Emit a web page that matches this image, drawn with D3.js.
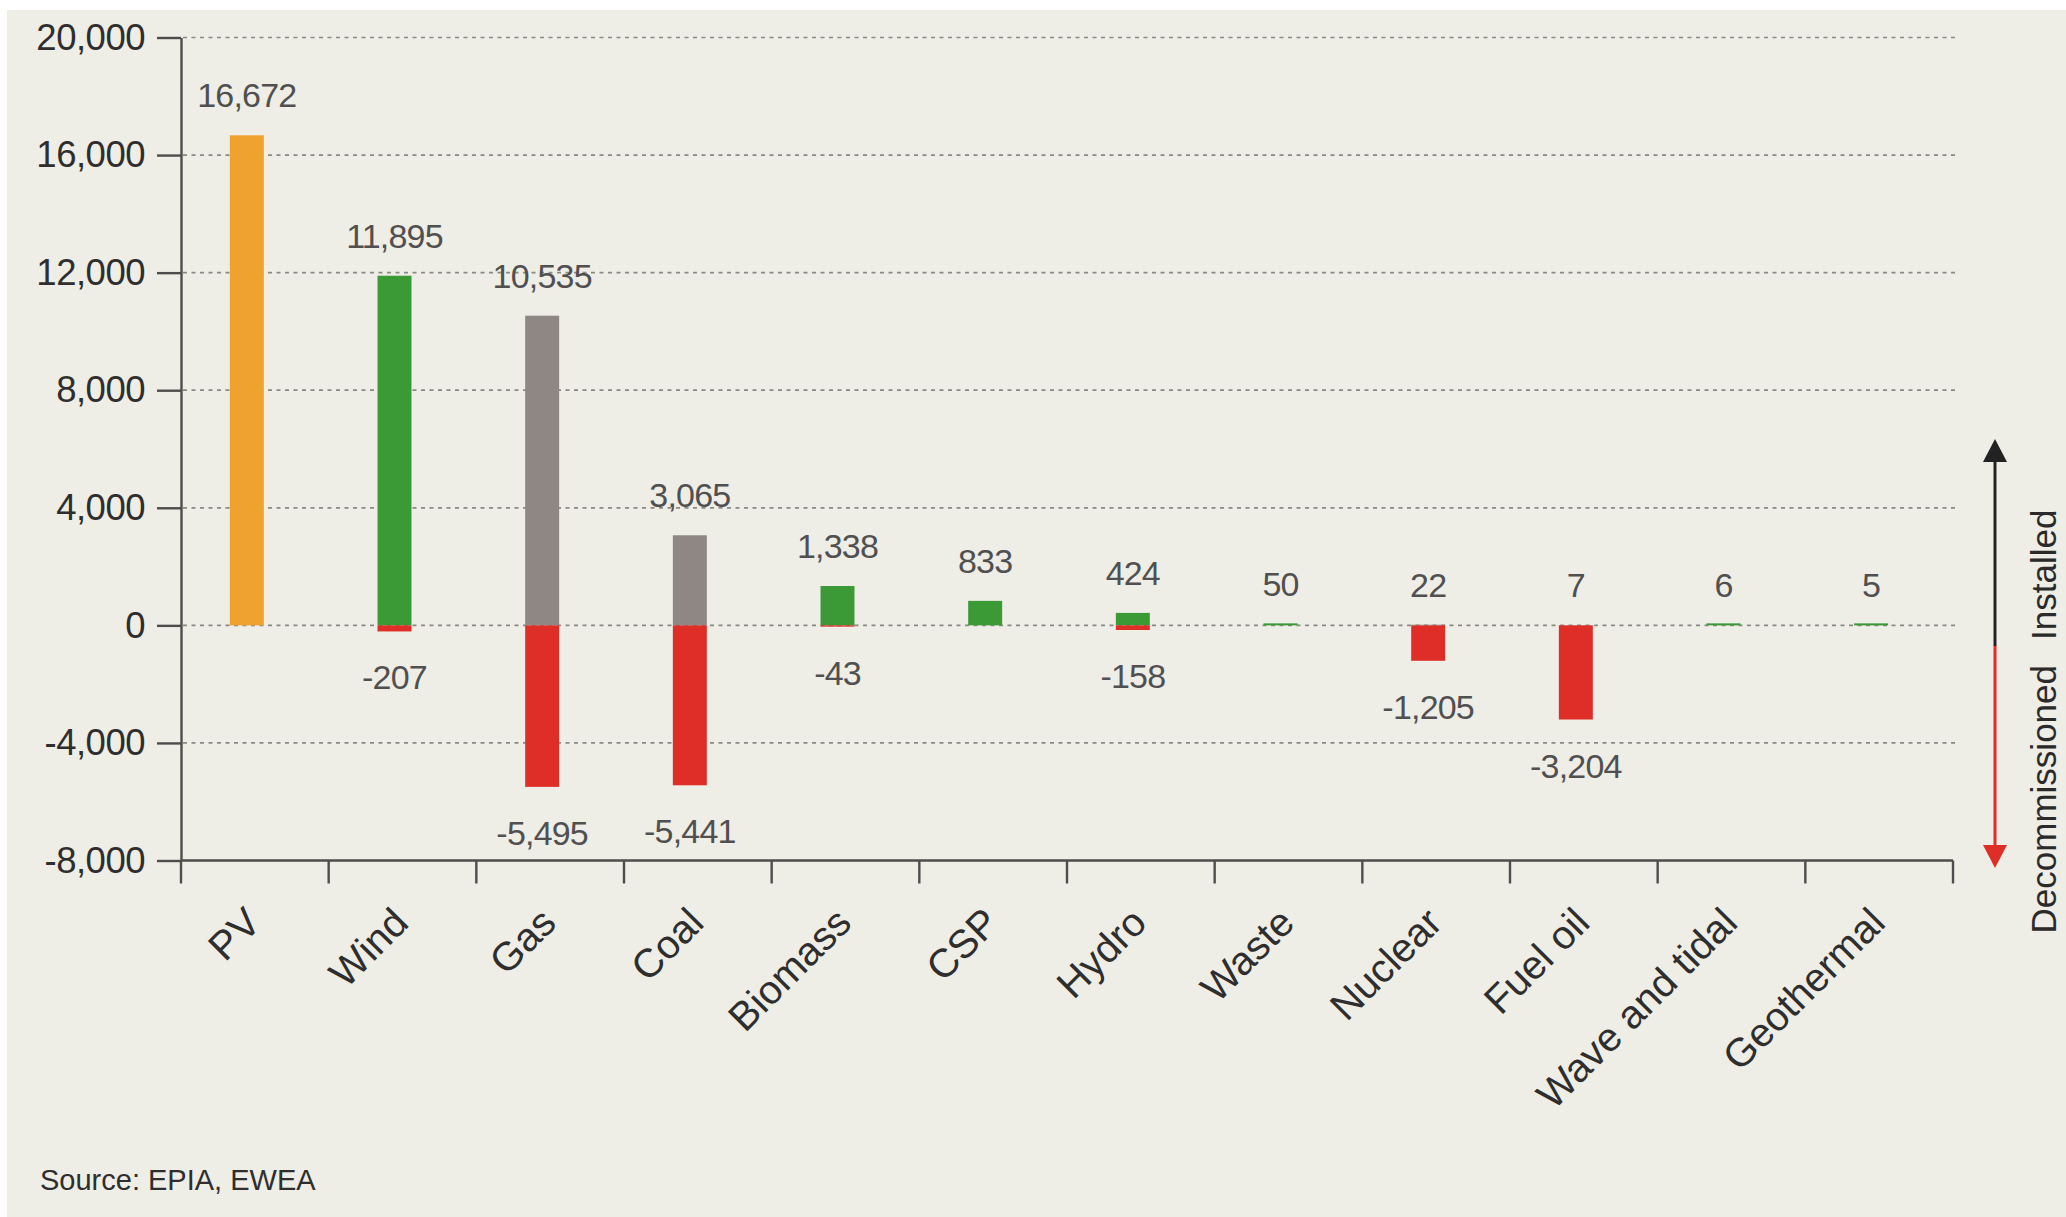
<!DOCTYPE html>
<html>
<head>
<meta charset="utf-8">
<script src="https://cdn.jsdelivr.net/npm/d3@7"></script>
<style>
  html, body { margin: 0; padding: 0; background: #ffffff; }
  svg { display: block; }
  text { font-family: "Liberation Sans", Arial, Helvetica, sans-serif; }
</style>
</head>
<body>
<svg id="chart" width="2066" height="1217"></svg>
<script>
// ---- Data (MW, EU 2013) ----
const categories = ["PV", "Wind", "Gas", "Coal", "Biomass", "CSP", "Hydro", "Waste", "Nuclear", "Fuel oil", "Wave and tidal", "Geothermal"];
const installed = [16672, 11895, 10535, 3065, 1338, 833, 424, 50, 22, 7, 6, 5];
const decommissioned = [0, -207, -5495, -5441, -43, 0, -158, 0, -1205, -3204, 0, 0];
const yTickValues = [-8000, -4000, 0, 4000, 8000, 12000, 16000, 20000];
const sourceText = "Source: EPIA, EWEA";
const arrowLabels = ["Installed", "Decommissioned"];

// ---- Styles ----
const techColor = {
  "PV": "#f0a22f", "Wind": "#3b9a36", "Gas": "#8e8784", "Coal": "#8e8784",
  "Biomass": "#3b9a36", "CSP": "#3b9a36", "Hydro": "#3b9a36", "Waste": "#3b9a36",
  "Nuclear": "#8e8784", "Fuel oil": "#8e8784", "Wave and tidal": "#3b9a36", "Geothermal": "#3b9a36"
};
const redColor = "#df2d28";
const axisColor = "#4d4d4d";

const svg = d3.select("#chart");
const W = 2066, H = 1217;

// paper background
svg.append("rect").attr("x", 0).attr("y", 0).attr("width", W).attr("height", H).attr("fill", "#ffffff");
svg.append("rect").attr("x", 7).attr("y", 10).attr("width", W - 7).attr("height", H - 10).attr("fill", "#eeede6");

const x = d3.scaleBand().domain(categories).range([181, 1953]).paddingInner(0.77).paddingOuter(0.385);
const y = d3.scaleLinear().domain([-8000, 20000]).range([860.5, 37.5]);
const barShift = -8;

const locale = d3.formatLocale({ decimal: ".", thousands: ",", grouping: [3], currency: ["", ""], minus: "-" });
const fmt = locale.format(",");

// gridlines
svg.append("g").selectAll("line").data(yTickValues.filter(v => v > -8000)).join("line")
  .attr("x1", 183).attr("x2", 1956)
  .attr("y1", d => y(d)).attr("y2", d => y(d))
  .attr("stroke", "#8a8a85").attr("stroke-width", 1.7).attr("stroke-dasharray", "4,4.5");

// y axis
const yAxis = d3.axisLeft(y).tickValues(yTickValues).tickFormat(fmt).tickSize(24).tickPadding(12).tickSizeOuter(0);
const gy = svg.append("g").attr("transform", "translate(181,0)").call(yAxis);
gy.select(".domain").attr("stroke", axisColor).attr("stroke-width", 2.4);
gy.selectAll(".tick line").attr("stroke", axisColor).attr("stroke-width", 2.4);
gy.selectAll(".tick text").attr("fill", "#2e2e2e").attr("font-size", 36.5)
  .attr("font-family", "'Liberation Sans', Arial, sans-serif").attr("letter-spacing", -0.5);

// x axis (line + boundary ticks)
const step = x.step();
const x0 = x.range()[0];
svg.append("line").attr("x1", 181).attr("x2", 1953).attr("y1", y(-8000)).attr("y2", y(-8000))
  .attr("stroke", axisColor).attr("stroke-width", 2.6);
svg.append("g").selectAll("line").data(d3.range(categories.length + 1)).join("line")
  .attr("x1", i => x0 + i * step).attr("x2", i => x0 + i * step)
  .attr("y1", y(-8000)).attr("y2", y(-8000) + 23)
  .attr("stroke", axisColor).attr("stroke-width", 2.4);

// category labels
svg.append("g").selectAll("text").data(categories).join("text")
  .attr("transform", d => `translate(${x(d) + x.bandwidth() / 2 + 8},925) rotate(-45)`)
  .attr("text-anchor", "end")
  .attr("font-size", 40).attr("fill", "#2e2e2e")
  .text(d => d);

// bars
const rows = categories.map((c, i) => ({ c, inst: installed[i], dec: decommissioned[i] }));
const bars = svg.append("g");
bars.selectAll("rect.inst").data(rows).join("rect").attr("class", "inst")
  .attr("x", d => x(d.c) + barShift).attr("width", x.bandwidth())
  .attr("y", d => Math.min(y(d.inst), d.dec === 0 ? y(0) - 2 : y(d.inst)))
  .attr("height", d => Math.max(y(0) - y(d.inst), d.dec === 0 ? 2 : 0))
  .attr("fill", d => techColor[d.c]);
bars.selectAll("rect.dec").data(rows.filter(d => d.dec < 0)).join("rect").attr("class", "dec")
  .attr("x", d => x(d.c) + barShift).attr("width", x.bandwidth())
  .attr("y", y(0))
  .attr("height", d => y(d.dec) - y(0))
  .attr("fill", redColor);

// value labels
const labels = svg.append("g").attr("fill", "#505050").attr("font-size", 34).attr("text-anchor", "middle").attr("letter-spacing", -0.8);
labels.selectAll("text.pos").data(rows).join("text").attr("class", "pos")
  .attr("x", d => x(d.c) + barShift + x.bandwidth() / 2)
  .attr("y", d => Math.min(y(d.inst), y(0)) - 28)
  .text(d => fmt(d.inst));
labels.selectAll("text.neg").data(rows.filter(d => d.dec < 0)).join("text").attr("class", "neg")
  .attr("x", d => x(d.c) + barShift + x.bandwidth() / 2)
  .attr("y", d => y(d.dec) + 58)
  .text(d => fmt(d.dec));

// installed / decommissioned arrow
const ax = 1995, aMid = 646, aTop = 439, aBot = 868;
svg.append("line").attr("x1", ax).attr("x2", ax).attr("y1", aTop + 18).attr("y2", aMid)
  .attr("stroke", "#222").attr("stroke-width", 3);
svg.append("path").attr("d", `M${ax},${aTop} L${ax - 12},${aTop + 23} L${ax + 12},${aTop + 23} Z`).attr("fill", "#222");
svg.append("line").attr("x1", ax).attr("x2", ax).attr("y1", aMid).attr("y2", aBot - 18)
  .attr("stroke", redColor).attr("stroke-width", 3);
svg.append("path").attr("d", `M${ax},${aBot} L${ax - 12},${aBot - 23} L${ax + 12},${aBot - 23} Z`).attr("fill", redColor);

svg.append("text").attr("transform", `translate(2056,640) rotate(-90)`).attr("text-anchor", "start")
  .attr("font-size", 35).attr("fill", "#2a2a2a").text(arrowLabels[0]);
svg.append("text").attr("transform", `translate(2056,665) rotate(-90)`).attr("text-anchor", "end")
  .attr("font-size", 35).attr("fill", "#2a2a2a").text(arrowLabels[1]);

// source
svg.append("text").attr("x", 40).attr("y", 1190).attr("font-size", 29).attr("fill", "#2e2e2e").text(sourceText);
</script>
</body>
</html>
